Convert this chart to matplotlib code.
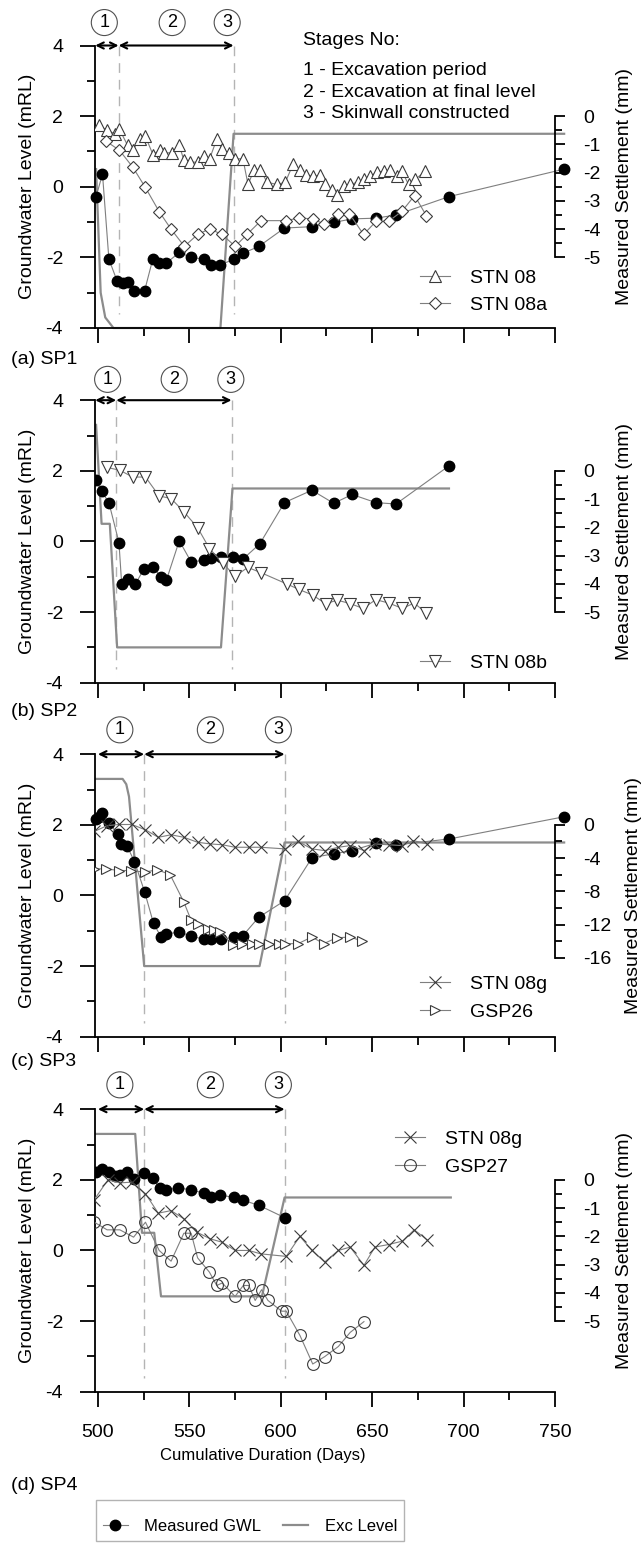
import matplotlib
matplotlib.use('Agg')
import matplotlib.pyplot as plt
from matplotlib.ticker import MultipleLocator
from matplotlib.lines import Line2D

plt.rcParams['font.family'] = ['Liberation Sans', 'DejaVu Sans']
plt.rcParams['axes.unicode_minus'] = False

# ---------------- data (days, mRL for GWL / exc level, mm for settlement) ----------------
# (a) SP1
gwl_a_x = [499, 502.5, 506, 510.5, 513.5, 516.5, 520, 525.5, 530, 533.5, 537.5, 544.5, 551, 558,
           562, 567, 574.5, 579.5, 588, 602, 617, 629, 639, 652, 663, 692, 755]
gwl_a_y = [-0.28, 0.36, -2.05, -2.67, -2.73, -2.69, -2.95, -2.95, -2.05, -2.16, -2.16, -1.86, -2.0,
           -2.05, -2.21, -2.21, -2.05, -1.88, -1.69, -1.17, -1.13, -1.01, -0.91, -0.89, -0.80, -0.28, 0.50]
exc_a_x = [499, 501.5, 504, 508.5, 511, 567, 574.2, 755]
exc_a_y = [0.5, -3.0, -3.7, -4.0, -4.0, -4.0, 1.5, 1.5]
stn08_x = [500.7, 504.9, 509.1, 511.8, 516.2, 519.1, 522.8, 525.9, 530.1, 533.7, 536.4, 540.5, 544.5,
           546.9, 550.5, 554.7, 558.2, 561.1, 565.1, 567.9, 571.5, 575.1, 579.3, 582.1, 585.5, 588.8,
           592.5, 597.9, 602.5, 606.7, 610.7, 614, 617.9, 621.2, 624.3, 628, 630.7, 634.4, 638, 642,
           645.3, 649, 652.6, 656.2, 659.5, 663.6, 666.3, 669.9, 673.6, 679]
stn08_y = [-0.33, -0.50, -0.62, -0.47, -1.03, -1.21, -0.80, -0.71, -1.36, -1.21, -1.30, -1.30, -1.03,
           -1.54, -1.63, -1.63, -1.42, -1.51, -0.80, -1.18, -1.30, -1.51, -1.51, -2.42, -1.89, -1.89,
           -2.34, -2.42, -2.34, -1.71, -1.91, -2.07, -2.13, -2.10, -2.42, -2.60, -2.78, -2.48, -2.42,
           -2.34, -2.24, -2.13, -1.98, -1.95, -1.91, -2.13, -1.95, -2.42, -2.24, -1.95]
stn08a_x = [504.5, 511.8, 519.1, 525.9, 533.6, 540.1, 547.3, 554.5, 561.1, 567.9, 575.1, 581.5, 589.2,
            603, 610.1, 617.4, 623.8, 631.1, 637.6, 645.3, 652.2, 659, 666.3, 673.2, 679.6]
stn08a_y = [-0.89, -1.21, -1.81, -2.52, -3.39, -4.01, -4.61, -4.19, -3.99, -4.19, -4.61, -4.19, -3.70,
            -3.70, -3.60, -3.64, -3.82, -3.46, -3.46, -4.19, -3.72, -3.72, -3.37, -2.81, -3.52]

# (b) SP2
gwl_b_x = [499, 502, 506, 511.5, 513, 516.5, 520.5, 525, 530, 534.5, 537.5, 544.5, 551, 558, 562,
           567.5, 574, 579.5, 588.5, 602, 617, 629, 639, 652, 663, 692]
gwl_b_y = [1.74, 1.42, 1.10, -0.03, -1.21, -1.05, -1.21, -0.79, -0.73, -1.0, -1.09, 0.02, -0.58,
           -0.53, -0.48, -0.45, -0.45, -0.49, -0.07, 1.10, 1.45, 1.08, 1.33, 1.10, 1.06, 2.14]
exc_b_x = [499, 502, 506.5, 510.5, 567.3, 573.6, 692]
exc_b_y = [3.3, 0.5, 0.5, -3.0, -3.0, 1.5, 1.5]
stn08b_x = [505, 512, 519, 526, 533.5, 540, 547, 554.5, 561, 568.5, 575, 582, 589, 603.5, 610, 617.5,
            624.5, 631, 638, 645, 652, 659, 666.5, 673, 679.5]
stn08b_y = [0.12, 0.02, -0.22, -0.22, -0.89, -0.98, -1.45, -2.01, -2.75, -3.28, -3.73, -3.42, -3.60,
            -4.01, -4.20, -4.40, -4.70, -4.58, -4.70, -4.87, -4.56, -4.68, -4.87, -4.68, -5.03]

# (c) SP3
gwl_c_x = [499, 500.5, 502, 506.2, 510.9, 512.7, 515.8, 520, 525.5, 530.4, 534.6, 537.4, 544.1, 551,
           557.8, 562, 567.5, 574.2, 579.1, 587.9, 602.1, 617.1, 628.9, 638.9, 652.2, 663, 692.2, 755.1]
gwl_c_y = [2.16, 2.23, 2.33, 2.05, 1.74, 1.46, 1.41, 0.96, 0.11, -0.79, -1.18, -1.10, -1.03, -1.15,
           -1.24, -1.24, -1.24, -1.18, -1.15, -0.62, -0.15, 1.07, 1.18, 1.27, 1.48, 1.43, 1.60, 2.23]
exc_c_x = [499, 513.5, 515.5, 517, 525.3, 588.4, 602.1, 755]
exc_c_y = [3.3, 3.3, 3.15, 2.8, -2.0, -2.0, 1.5, 1.5]
stn08g_c_x = [498, 505, 511.5, 518.5, 526, 533, 540, 547, 554.5, 561.5, 568, 575, 582.5, 589, 602.5,
              609.5, 617, 624, 631.5, 638, 645.5, 651.5, 659, 666.5, 672.5, 680]
stn08g_c_y = [-0.8, -0.1, 0.04, 0.04, -0.6, -1.5, -1.2, -1.5, -2.1, -2.3, -2.4, -2.7, -2.7, -2.7,
              -2.9, -2.0, -2.9, -3.1, -2.7, -2.5, -3.1, -2.3, -2.4, -2.5, -1.9, -2.3]
gsp26_x = [498, 504.5, 511.5, 518, 525.5, 532.5, 539.5, 547, 551, 554.5, 560, 563.5, 567, 574, 579,
           584, 588, 593.5, 599, 602.5, 609.5, 617, 623.5, 630.5, 638, 644.5]
gsp26_y = [-5.3, -5.3, -5.5, -5.5, -5.7, -5.4, -6.0, -9.3, -11.5, -11.9, -12.5, -12.7, -12.9, -14.5,
           -14.4, -14.3, -14.4, -14.3, -14.4, -14.3, -14.3, -13.5, -14.3, -13.6, -13.5, -14.0]

# (d) SP4
gwl_d_x = [499, 502, 506, 509.5, 512, 516, 519.5, 525.3, 530, 533.7, 537.2, 544, 551, 557.8, 561.8,
           567, 574.5, 579.3, 588, 602.1]
gwl_d_y = [2.23, 2.30, 2.23, 2.10, 2.13, 2.23, 2.01, 2.18, 2.04, 1.78, 1.71, 1.78, 1.71, 1.63, 1.50,
           1.57, 1.50, 1.42, 1.28, 0.93]
exc_d_x = [499, 520.4, 524.1, 530.8, 534.5, 589.7, 602.1, 693]
exc_d_y = [3.3, 3.3, 0.5, 0.5, -1.3, -1.3, 1.5, 1.5]
stn08g_d_x = [498, 505.5, 512, 518.5, 526, 533, 540, 547, 554, 561.5, 568, 575, 582.5, 589, 603,
              610.5, 617, 624, 631.5, 638, 645.5, 651.5, 659, 666.5, 673, 680]
stn08g_d_y = [-0.70, 0.0, -0.11, -0.08, -0.49, -1.18, -1.09, -1.38, -1.85, -2.09, -2.21, -2.50, -2.50,
              -2.62, -2.71, -2.00, -2.50, -2.91, -2.50, -2.38, -3.03, -2.38, -2.29, -2.17, -1.77, -2.12]
gsp27_x = [498, 505, 512, 519.5, 526, 533.5, 540, 547, 551, 554.5, 561, 565, 568, 575, 579.5, 582.5,
           586, 589.5, 593, 600.5, 603, 610.5, 617.5, 624, 631.5, 638, 645.5]
gsp27_y = [-1.50, -1.77, -1.77, -2.03, -1.50, -2.50, -2.88, -1.89, -1.89, -2.76, -3.27, -3.74, -3.65,
           -4.13, -3.74, -3.74, -4.27, -3.89, -4.27, -4.65, -4.65, -5.51, -6.52, -6.26, -5.90, -5.40, -5.02]

# stage boundaries (days) and circled-number positions per panel
stages = {
    'a': [498.5, 511.3, 574.2],
    'b': [498.5, 510.0, 573.1],
    'c': [500, 525.3, 602.1],
    'd': [500, 525.3, 602.1],
}
stage_marks = {
    'a': [503.5, 540.6, 570.7],
    'b': [505.3, 541.7, 572.7],
    'c': [512, 561.5, 598.7],
    'd': [512, 561.5, 598.7],
}
stage_notes = ['1 - Excavation period', '2 - Excavation at final level', '3 - Skinwall constructed']

# ---------------- layout ----------------
W, H = 643.0, 1544.0
fig = plt.figure(figsize=(W / 100, H / 100), dpi=100)
bottoms_px = [328, 682.7, 1036.7, 1391.7]
panel_names = ['(a) SP1', '(b) SP2', '(c) SP3', '(d) SP4']
label_gap = [31, 29, 25, 94]

gwl_style = dict(color='#7f7f7f', lw=0.8, marker='o', ms=7.5, mfc='k', mec='k', zorder=4)
exc_style = dict(color='#8c8c8c', lw=1.6, zorder=2, clip_on=False)
sett_style = dict(color='#7f7f7f', lw=0.8, mfc='white', mec='#3a3a3a', mew=0.8, zorder=3)

axes = []
for i, bpx in enumerate(bottoms_px):
    ax = fig.add_axes([95 / W, 1 - bpx / H, 460 / W, 282.5 / H])
    ax2 = ax.twinx()
    axes.append((ax, ax2))

    ax.set_xlim(498.4, 750)
    ax.set_ylim(-4, 4)
    for s in ['top', 'right']:
        ax.spines[s].set_visible(False)
    for s in ['left', 'bottom']:
        ax.spines[s].set_linewidth(1.3)
    ax.xaxis.set_major_locator(MultipleLocator(50))
    ax.xaxis.set_minor_locator(MultipleLocator(25))
    ax.yaxis.set_major_locator(MultipleLocator(2))
    ax.yaxis.set_minor_locator(MultipleLocator(1))
    ax.tick_params(which='major', direction='out', length=11, width=1.3, labelsize=14, pad=12)
    ax.tick_params(which='minor', direction='out', length=6, width=1.3)
    ax.tick_params(axis='x', labelbottom=(i == 3))
    ax.set_ylabel('Groundwater Level (mRL)', fontsize=14)
    ax.yaxis.set_label_coords(-0.128, 0.5)

    for s in ['top', 'left', 'bottom']:
        ax2.spines[s].set_visible(False)
    ax2.spines['right'].set_linewidth(1.3)
    ax2.tick_params(which='major', direction='out', length=7, width=1.3, labelsize=14, pad=13)
    ax2.tick_params(which='minor', direction='out', length=5, width=1.3)
    ax2.set_ylabel('Measured Settlement (mm)', fontsize=14)
    ax2.yaxis.set_label_coords(1.132 if i != 2 else 1.153, 0.5)

    fig.text(11 / W, 1 - (bpx + label_gap[i]) / H, panel_names[i], fontsize=14, va='center', ha='left')

    key = 'abcd'[i]
    st = stages[key]
    for x in st[1:]:
        ax.plot([x, x], [4, -3.6], color='#b4b4b4', lw=1.0, dashes=(7, 5), zorder=1)
    for x0, x1 in [(st[0], st[1]), (st[1], st[2])]:
        ax.annotate('', xy=(x1, 4), xytext=(x0, 4), annotation_clip=False,
                    arrowprops=dict(arrowstyle='<->,head_length=0.45,head_width=0.22', color='k',
                                    lw=1.5, shrinkA=0, shrinkB=0))
    ymark = {'a': 4.65, 'b': 4.59, 'c': 4.69, 'd': 4.69}[key]
    for n, x in enumerate(stage_marks[key]):
        ax.text(x, ymark, str(n + 1), fontsize=13, ha='center', va='center',
                bbox=dict(boxstyle='circle,pad=0.25', fc='white', ec='#505050', lw=0.8))

# settlement axis scales
for i, (ax, ax2) in enumerate(axes):
    if i == 2:
        ax2.set_ylim(-25.5, 8.5)
        ax2.spines['right'].set_bounds(-16, 0)
        ax2.set_yticks([0, -4, -8, -12, -16])
        ax2.set_yticks([-2, -6, -10, -14], minor=True)
    else:
        ax2.set_ylim(-7.5, 2.5)
        ax2.spines['right'].set_bounds(-5, 0)
        ax2.set_yticks([0, -1, -2, -3, -4, -5])
        ax2.set_yticks([-0.5, -1.5, -2.5, -3.5, -4.5], minor=True)

# ---------------- (a) ----------------
ax, ax2 = axes[0]
ax.plot(exc_a_x, exc_a_y, **exc_style)
ax.plot(gwl_a_x, gwl_a_y, clip_on=False, **gwl_style)
ax2.plot(stn08_x, stn08_y, marker='^', ms=8, label='STN 08', **sett_style)
ax2.plot(stn08a_x, stn08a_y, marker='D', ms=6.5, label='STN 08a', **sett_style)
ax2.legend(loc='upper left', bbox_to_anchor=(0.7065, 0.209), frameon=False, fontsize=14,
           borderpad=0, borderaxespad=0, handlelength=1.55, handletextpad=1.0, labelspacing=0.5)
ax.text(0.452, 1.019, 'Stages No:', transform=ax.transAxes, fontsize=14, va='center', ha='left')
for k, y in enumerate([0.913, 0.834, 0.758]):
    ax.text(0.452, y, stage_notes[k], transform=ax.transAxes, fontsize=14, va='center', ha='left')

# ---------------- (b) ----------------
ax, ax2 = axes[1]
ax.plot(exc_b_x, exc_b_y, **exc_style)
ax.plot(gwl_b_x, gwl_b_y, **gwl_style)
ax2.plot(stn08b_x, stn08b_y, marker='v', ms=8, label='STN 08b', **sett_style)
ax2.legend(loc='upper left', bbox_to_anchor=(0.7065, 0.1016), frameon=False, fontsize=14,
           borderpad=0, borderaxespad=0, handlelength=1.55, handletextpad=1.0)

# ---------------- (c) ----------------
ax, ax2 = axes[2]
ax.plot(exc_c_x, exc_c_y, **exc_style)
ax.plot(gwl_c_x, gwl_c_y, clip_on=False, **gwl_style)
ax2.plot(stn08g_c_x, stn08g_c_y, marker='x', ms=9, label='STN 08g', **sett_style)
ax2.plot(gsp26_x, gsp26_y, marker='>', ms=7, label='GSP26', **sett_style)
ax2.legend(loc='upper left', bbox_to_anchor=(0.7065, 0.216), frameon=False, fontsize=14,
           borderpad=0, borderaxespad=0, handlelength=1.55, handletextpad=1.0, labelspacing=0.5)

# ---------------- (d) ----------------
ax, ax2 = axes[3]
ax.plot(exc_d_x, exc_d_y, **exc_style)
ax.plot(gwl_d_x, gwl_d_y, **gwl_style)
ax2.plot(stn08g_d_x, stn08g_d_y, marker='x', ms=9, label='STN 08g', **sett_style)
ax2.plot(gsp27_x, gsp27_y, marker='o', ms=8.5, label='GSP27',
         **{**sett_style, 'mfc': 'none'})
ax2.legend(loc='upper left', bbox_to_anchor=(0.652, 0.924), frameon=False, fontsize=14,
           borderpad=0, borderaxespad=0, handlelength=1.55, handletextpad=1.0, labelspacing=0.5)
ax.set_xlabel('Cumulative Duration (Days)', fontsize=12)
ax.xaxis.set_label_coords(0.365, -0.2)

# ---------------- shared legend ----------------
handles = [Line2D([], [], color='#7f7f7f', lw=0.8, marker='o', ms=7.5, mfc='k', mec='k'),
           Line2D([], [], color='#8c8c8c', lw=1.6)]
leg = fig.legend(handles, ['Measured GWL', 'Exc Level'], loc='upper left',
                 bbox_to_anchor=(96 / W, 1 - 1500 / H), ncol=2, fontsize=12, fancybox=False,
                 edgecolor='#a0a0a0', borderaxespad=0, borderpad=0.4, handlelength=1.5,
                 handletextpad=1.0, columnspacing=1.3, title=' ', title_fontsize=2)
leg.get_frame().set_linewidth(1.0)

fig.savefig('out.png', dpi=100)
